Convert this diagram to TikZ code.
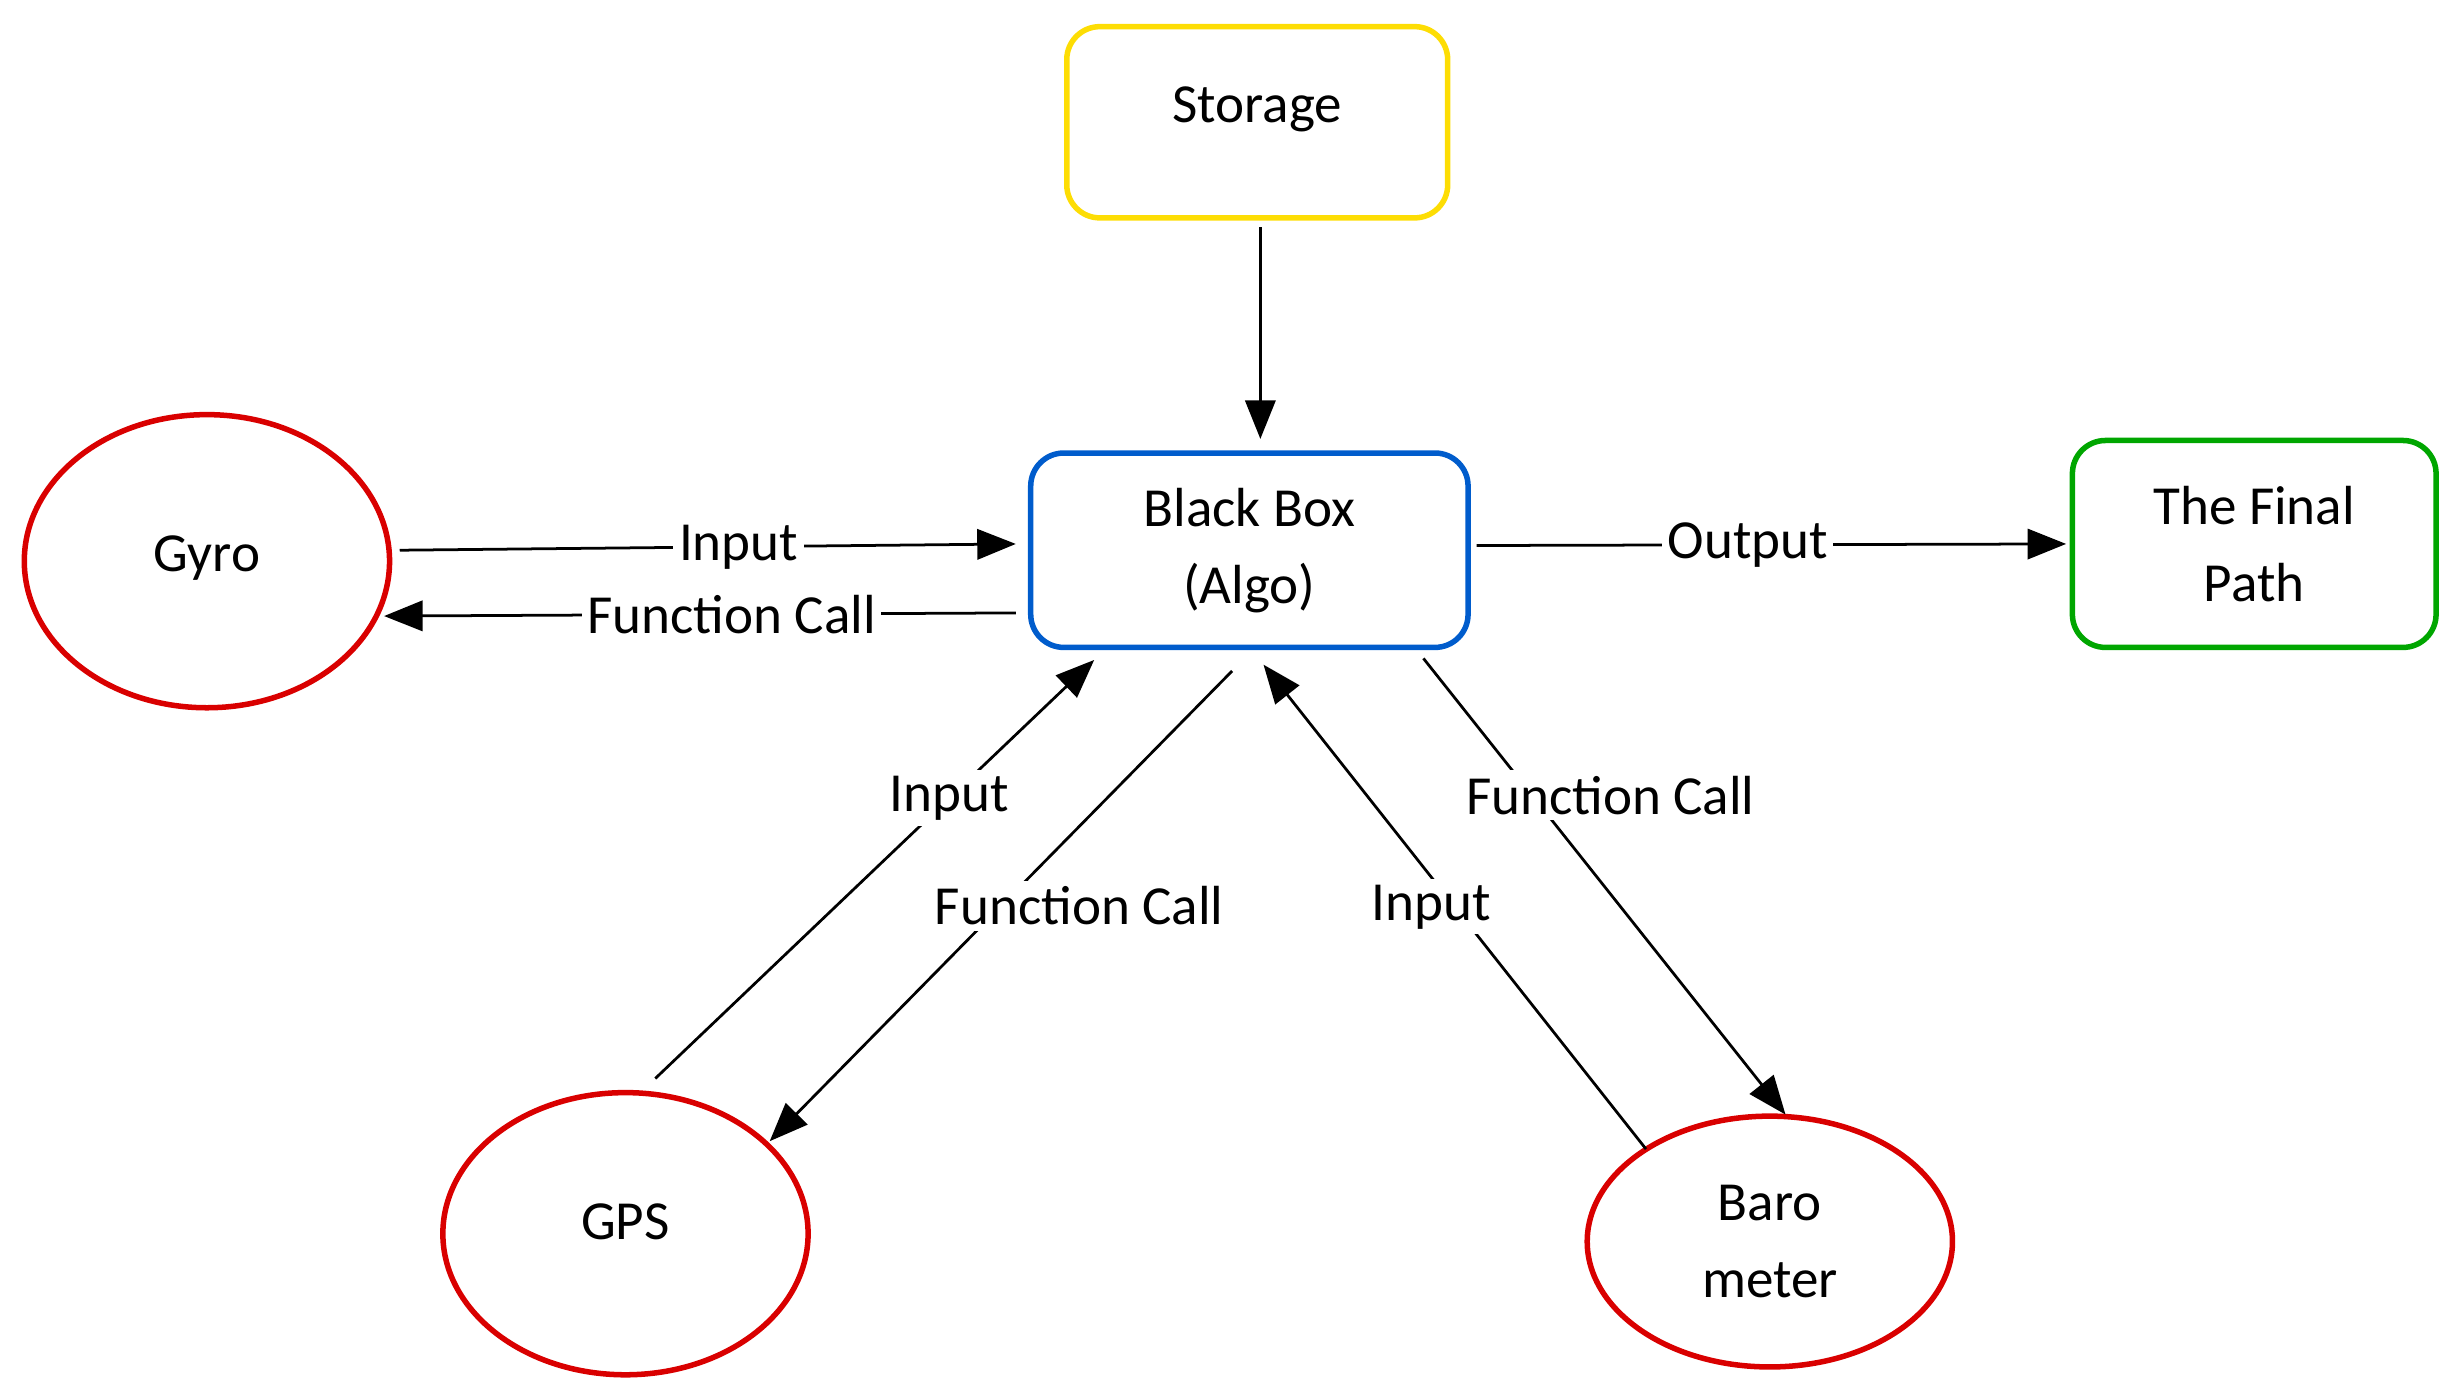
\documentclass[tikz,border=0pt]{standalone}
\usepackage{fontspec}
\setmainfont{Carlito}
\usetikzlibrary{shapes.geometric, arrows.meta, positioning}
\tikzstyle{box} = [rectangle, rounded corners=6pt, line width=1pt, align=center, font=\fontsize{10}{14}\selectfont]
\tikzstyle{sensor} = [ellipse, draw=red!85!black, line width=1pt, align=center, font=\fontsize{10}{14}\selectfont]
\tikzstyle{arrow} = [line width=0.5pt, -{Triangle[length=7pt,width=5.5pt]}]
\tikzstyle{lbl} = [fill=white, inner sep=1pt, font=\fontsize{10}{12}\selectfont]

\begin{document}
\begin{tikzpicture}
\useasboundingbox (0,0) rectangle (15.68,8.92);

\node (storage) [box, draw=yellow!80!orange, minimum width=2.43cm, minimum height=1.22cm] at (8.02,8.14) {\raisebox{2.2mm}{Storage}};
\node (algo) [box, draw=blue!55!cyan!80!black, minimum width=2.79cm, minimum height=1.24cm] at (7.97,5.41) {Black Box\\(Algo)};
\node (path) [box, draw=green!65!black, minimum width=2.32cm, minimum height=1.32cm] at (14.38,5.45) {The Final\\Path};
\node (gyro) [sensor, minimum width=2.33cm, minimum height=1.87cm] at (1.32,5.34) {\raisebox{1mm}{Gyro}};
\node (gps) [sensor, minimum width=2.33cm, minimum height=1.80cm] at (3.99,1.05) {\raisebox{1.5mm}{GPS}};
\node (baro) [sensor, minimum width=2.33cm, minimum height=1.60cm] at (11.29,1.00) {Baro\\meter};

% connector ends
\coordinate (s1) at (8.04,7.47); \coordinate (a0) at (8.04,6.12);
\coordinate (g1) at (2.55,5.41); \coordinate (a1) at (6.48,5.45);
\coordinate (a2) at (6.48,5.01); \coordinate (g2) at (2.45,4.99);
\coordinate (a3) at (9.42,5.44); \coordinate (p1) at (13.18,5.45);
\coordinate (q1) at (4.18,2.04); \coordinate (a4) at (6.98,4.71);
\coordinate (a5) at (7.86,4.64); \coordinate (q2) at (4.91,1.64);
\coordinate (b1) at (10.50,1.59); \coordinate (a6) at (8.06,4.68);
\coordinate (a7) at (9.08,4.72); \coordinate (b2) at (11.39,1.81);

\draw [arrow] (s1) -- (a0);
\draw [arrow] (g1) -- node[lbl, pos=0.55] {Input} (a1);
\draw [arrow] (a2) -- node[lbl, pos=0.45] {Function Call} (g2);
\draw [arrow] (a3) -- node[lbl, pos=0.46] {Output} (p1);
\draw [arrow] (q1) -- node[lbl, pos=0.67] {Input} (a4);
\draw [arrow] (a5) -- node[lbl, pos=0.5, xshift=0.5cm] {Function Call} (q2);
\draw [arrow] (b1) -- node[lbl, pos=0.5, xshift=-0.15cm] {Input} (a6);
\draw [arrow] (a7) -- node[lbl, pos=0.3, xshift=0.5cm] {Function Call} (b2);

\end{tikzpicture}
\end{document}
